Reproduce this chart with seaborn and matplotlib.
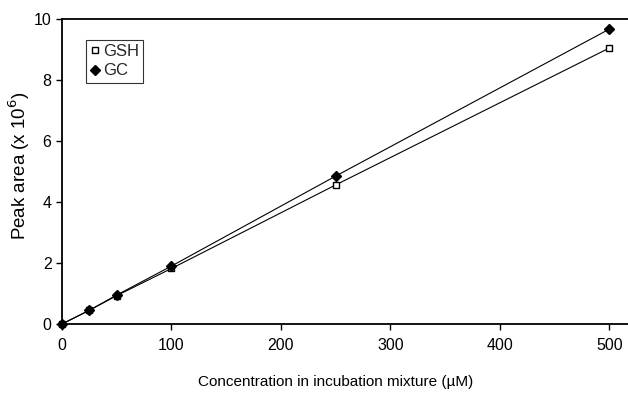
import matplotlib
matplotlib.use("Agg")
import matplotlib.pyplot as plt
import seaborn as sns
import pandas as pd

concentration = [0, 25, 50, 100, 250, 500]
gsh_area = [0.0, 0.45, 0.93, 1.82, 4.56, 9.05]
gc_area = [0.0, 0.45, 0.95, 1.90, 4.85, 9.67]
series_names = ["GSH", "GC"]
x_ticks = [0, 100, 200, 300, 400, 500]
y_ticks = [0, 2, 4, 6, 8, 10]

df = pd.DataFrame({
    "conc": concentration * 2,
    "area": gsh_area + gc_area,
    "series": [series_names[0]] * len(concentration) + [series_names[1]] * len(concentration),
})

sns.set_theme(style="white")
plt.rcParams["font.family"] = ["Liberation Sans", "DejaVu Sans"]

fig = plt.figure(figsize=(6.28, 3.94), dpi=100)
ax = fig.add_axes([62 / 628, 1 - 324 / 394, 1 - 62 / 628, (324 - 19) / 394])

sns.lineplot(data=df, x="conc", y="area", hue="series", style="series",
             markers={"GSH": "s", "GC": "D"}, dashes=False,
             palette={"GSH": "black", "GC": "black"}, linewidth=0.8,
             ax=ax, legend=False)
lines = ax.get_lines()
for ln, name in zip(lines, series_names):
    ln.set_markersize(5 if name == "GSH" else 5.5)
    ln.set_markeredgecolor("black")
    ln.set_markerfacecolor("white" if name == "GSH" else "black")
    ln.set_markeredgewidth(1.0)
    ln.set_label(name)
    ln.set_clip_on(False)

ax.set_xlim(0, 517)
ax.set_ylim(0, 10)
ax.set_xticks(x_ticks)
ax.set_yticks(y_ticks)
ax.set_xticklabels([str(v) for v in x_ticks])
ax.set_yticklabels([str(v) for v in y_ticks])
ax.tick_params(axis="both", direction="out", length=4, width=1, colors="black",
               labelsize=11.5, bottom=True, left=True)
ax.tick_params(axis="x", pad=6)
ax.set_xlabel("Concentration in incubation mixture (\u00b5M)", fontsize=11, color="black")
ax.xaxis.set_label_coords((336 - 62) / 566, -(382 - 324) / 305)
ax.xaxis.label.set_va("center")
ax.set_ylabel("Peak area (x 10$^6$)", fontsize=13.5, color="black")
ax.yaxis.set_label_coords(-(62 - 19) / 566, (324 - 166) / 305)
ax.yaxis.label.set_va("center")

for side in ["left", "bottom", "top"]:
    ax.spines[side].set_visible(True)
    ax.spines[side].set_color("black")
    ax.spines[side].set_linewidth(1.3)
ax.spines["right"].set_visible(False)

leg = ax.legend(handles=lines, labels=series_names, loc="upper left",
                bbox_to_anchor=(24 / 566, 1 - 21 / 305), frameon=True, fancybox=False,
                edgecolor="black", fontsize=12, handlelength=0.6, handletextpad=0.15,
                borderpad=0.25, labelspacing=0.25, borderaxespad=0)
leg.get_frame().set_linewidth(0.8)
for h in leg.legend_handles:
    h.set_linestyle("")

fig.savefig("out.png", dpi=100)
